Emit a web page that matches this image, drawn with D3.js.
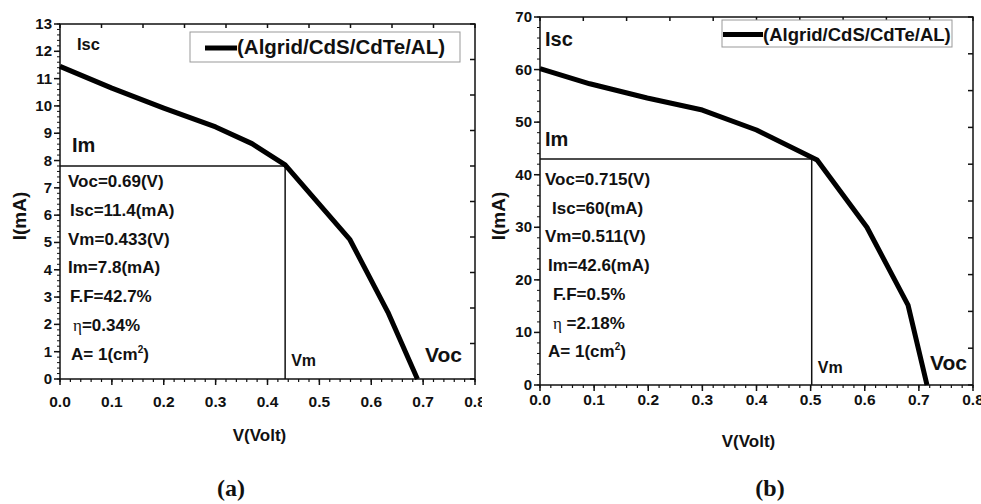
<!DOCTYPE html>
<html>
<head>
<meta charset="utf-8">
<script src="https://cdn.jsdelivr.net/npm/d3@7"></script>
<style>
body { margin: 0; background: #fff; }
text { font-family: "Liberation Sans", Arial, sans-serif; font-weight: bold; fill: #111; }
</style>
</head>
<body>
<script>
const width = 981;
const height = 504;

// ---- panel (a) data ----
const voltsA = [0, 0.1, 0.2, 0.3, 0.37, 0.434, 0.559, 0.632, 0.689];
const currentA = [11.45, 10.65, 9.92, 9.23, 8.62, 7.84, 5.1, 2.45, 0];
const xTicksA = [0, 0.1, 0.2, 0.3, 0.4, 0.5, 0.6, 0.7, 0.8];
const yTicksA = [0, 1, 2, 3, 4, 5, 6, 7, 8, 9, 10, 11, 12, 13];
const mppA = [0.434, 7.8];
const infoA = ["Voc=0.69(V)", "Isc=11.4(mA)", "Vm=0.433(V)", "Im=7.8(mA)", "F.F=42.7%", "η=0.34%", "A= 1(cm2)"];

// ---- panel (b) data ----
const voltsB = [0, 0.092, 0.198, 0.3, 0.4, 0.512, 0.604, 0.68, 0.715];
const currentB = [60.2, 57.3, 54.6, 52.3, 48.5, 42.8, 30, 15.2, 0];
const xTicksB = [0, 0.1, 0.2, 0.3, 0.4, 0.5, 0.6, 0.7, 0.8];
const yTicksB = [0, 10, 20, 30, 40, 50, 60, 70];
const mppB = [0.502, 43];
const infoB = ["Voc=0.715(V)", "Isc=60(mA)", "Vm=0.511(V)", "Im=42.6(mA)", "F.F=0.5%", "η =2.18%", "A= 1(cm2)"];

const legendLabel = "(Algrid/CdS/CdTe/AL)";

let svg = d3.select("body").append("svg")
    .attr("width", width)
    .attr("height", height);

svg.append("defs").append("clipPath")
    .attr("id", "clipA")
    .append("rect")
    .attr("x", 0).attr("y", 0)
    .attr("width", 482).attr("height", height);

function drawPanel(p) {
    let g = svg.append("g");
    if (p.clip) g.attr("clip-path", "url(#" + p.clip + ")");

    let x = d3.scaleLinear().domain([0, 0.8]).range([p.left, p.right]);
    let y = d3.scaleLinear().domain([0, p.yMax]).range([p.bottom, p.top]);

    // frame
    g.append("rect")
        .attr("x", p.left).attr("y", p.top)
        .attr("width", p.right - p.left).attr("height", p.bottom - p.top)
        .attr("fill", "none").attr("stroke", "#111").attr("stroke-width", 1.5);

    // bottom axis: major + minor
    let minorX = d3.range(0, 0.8001, 0.02);
    g.selectAll(".mx").data(minorX).enter().append("line")
        .attr("x1", d => x(d)).attr("x2", d => x(d))
        .attr("y1", p.bottom).attr("y2", p.bottom + 3)
        .attr("stroke", "#111").attr("stroke-width", 1.2);
    g.selectAll(".Mx").data(p.xTicks).enter().append("line")
        .attr("x1", d => x(d)).attr("x2", d => x(d))
        .attr("y1", p.bottom).attr("y2", p.bottom + 6)
        .attr("stroke", "#111").attr("stroke-width", 1.5);
    g.selectAll(".xl").data(p.xTicks).enter().append("text")
        .attr("x", d => x(d)).attr("y", p.bottom + p.xLabelDy)
        .attr("text-anchor", "middle")
        .style("font-size", "15.5px")
        .text(d3.format(".1f"));

    // left axis: major + minor
    let minorY = d3.range(0, p.yMax + 0.001, p.yMinor);
    g.selectAll(".my").data(minorY).enter().append("line")
        .attr("x1", p.left - 3).attr("x2", p.left)
        .attr("y1", d => y(d)).attr("y2", d => y(d))
        .attr("stroke", "#111").attr("stroke-width", 1);
    g.selectAll(".My").data(p.yTicks).enter().append("line")
        .attr("x1", p.left - 6).attr("x2", p.left)
        .attr("y1", d => y(d)).attr("y2", d => y(d))
        .attr("stroke", "#111").attr("stroke-width", 1.5);
    g.selectAll(".yl").data(p.yTicks).enter().append("text")
        .attr("x", p.left - 8).attr("y", d => y(d) + 5)
        .attr("text-anchor", "end")
        .style("font-size", "15px")
        .text(d => d);

    // top & right axes: ten inward ticks
    let frac = d3.range(0, 11).map(i => i / 10);
    g.selectAll(".tt").data(frac).enter().append("line")
        .attr("x1", d => x(d * 0.8)).attr("x2", d => x(d * 0.8))
        .attr("y1", p.top).attr("y2", p.top + 4)
        .attr("stroke", "#111").attr("stroke-width", 1.5);
    g.selectAll(".rt").data(frac).enter().append("line")
        .attr("x1", p.right - 5).attr("x2", p.right)
        .attr("y1", d => y(d * p.yMax)).attr("y2", d => y(d * p.yMax))
        .attr("stroke", "#111").attr("stroke-width", 1.5);

    // axis titles
    g.append("text")
        .attr("x", (p.left + p.right) / 2 - 8).attr("y", p.bottom + 62)
        .attr("text-anchor", "middle")
        .style("font-size", "17px")
        .text("V(Volt)");
    g.append("text")
        .attr("transform", `translate(${p.yTitleX}, 216) rotate(-90)`)
        .attr("text-anchor", "middle")
        .style("font-size", "19px")
        .text("I(mA)");

    // max power rectangle lines
    g.append("line")
        .attr("x1", x(0)).attr("x2", x(p.mpp[0]))
        .attr("y1", y(p.mpp[1])).attr("y2", y(p.mpp[1]))
        .attr("stroke", "#111").attr("stroke-width", 1.5);
    g.append("line")
        .attr("x1", x(p.mpp[0])).attr("x2", x(p.mpp[0]))
        .attr("y1", y(p.mpp[1])).attr("y2", y(0))
        .attr("stroke", "#111").attr("stroke-width", 1.5);

    // I-V curve
    let line = d3.line()
        .x(d => x(d[0]))
        .y(d => y(d[1]));
    g.append("path")
        .datum(d3.zip(p.volts, p.current))
        .attr("fill", "none")
        .attr("stroke", "#000")
        .attr("stroke-width", 5)
        .attr("stroke-linejoin", "round")
        .attr("d", line);

    // legend
    g.append("rect")
        .attr("x", p.legend.x).attr("y", p.legend.y)
        .attr("width", p.legend.w).attr("height", p.legend.h)
        .attr("fill", "#fff").attr("stroke", "#999").attr("stroke-width", 1);
    g.append("line")
        .attr("x1", p.legend.lx).attr("x2", p.legend.lx + p.legend.lw)
        .attr("y1", p.legend.y + p.legend.h / 2 + 1).attr("y2", p.legend.y + p.legend.h / 2 + 1)
        .attr("stroke", "#000").attr("stroke-width", 5);
    g.append("text")
        .attr("x", p.legend.lx + p.legend.lw).attr("y", p.legend.y + p.legend.h / 2 + 7)
        .style("font-size", p.legend.fs + "px")
        .text(legendLabel);

    // point labels
    g.append("text").attr("x", p.left + p.isc[0]).attr("y", p.isc[1])
        .style("font-size", p.iscFs + "px").text("Isc");
    g.append("text").attr("x", p.left + p.im[0]).attr("y", p.im[1])
        .style("font-size", "20px").text("Im");
    g.append("text").attr("x", x(p.mpp[0]) + 6).attr("y", p.vmY)
        .style("font-size", "16px").text("Vm");
    g.append("text").attr("x", p.voc[0]).attr("y", p.voc[1])
        .style("font-size", "21px").text("Voc");

    // parameter block
    p.info.forEach((t, i) => {
        let tx = g.append("text")
            .attr("x", p.left + p.infoDx[i])
            .attr("y", p.infoY + i * p.infoStep)
            .style("font-size", "17px");
        if (t.startsWith("η")) {
            tx.append("tspan").style("font-family", "'Liberation Serif', serif")
                .style("font-weight", "normal").text("η");
            tx.append("tspan").text(t.slice(1));
        } else if (t.endsWith("cm2)")) {
            tx.append("tspan").text(t.slice(0, -2));
            tx.append("tspan").attr("dy", -7).style("font-size", "10px").text("2");
            tx.append("tspan").attr("dy", 7).text(")");
        } else {
            tx.text(t);
        }
    });

    // panel letter
    svg.append("text")
        .attr("x", p.letterX).attr("y", 496)
        .attr("text-anchor", "middle")
        .style("font-family", "'Liberation Serif', serif")
        .style("font-size", "24px")
        .text(p.letter);
}

drawPanel({
    clip: "clipA",
    left: 60, right: 475, top: 24, bottom: 379,
    yMax: 13, yMinor: 0.2,
    xTicks: xTicksA, yTicks: yTicksA, xLabelDy: 28,
    volts: voltsA, current: currentA, mpp: mppA, info: infoA,
    yTitleX: 26,
    legend: {x: 190, y: 32, w: 270, h: 30, lx: 205, lw: 32, fs: 20.5},
    isc: [17, 50], iscFs: 16.5, im: [12, 152],
    vmY: 366, voc: [425, 362],
    infoY: 187, infoStep: 28.8, infoDx: [8, 10, 8, 8, 10, 13, 11],
    letterX: 231, letter: "(a)"
});

drawPanel({
    left: 540, right: 973, top: 17, bottom: 385,
    yMax: 70, yMinor: 2,
    xTicks: xTicksB, yTicks: yTicksB, xLabelDy: 20,
    volts: voltsB, current: currentB, mpp: mppB, info: infoB,
    yTitleX: 505,
    legend: {x: 722, y: 20, w: 230, h: 27, lx: 723, lw: 40, fs: 18.5},
    isc: [5, 46], iscFs: 20, im: [5, 146],
    vmY: 373, voc: [930, 370],
    infoY: 185, infoStep: 28.7, infoDx: [5, 12, 5, 8, 13, 13, 8],
    letterX: 770, letter: "(b)"
});
</script>
</body>
</html>
